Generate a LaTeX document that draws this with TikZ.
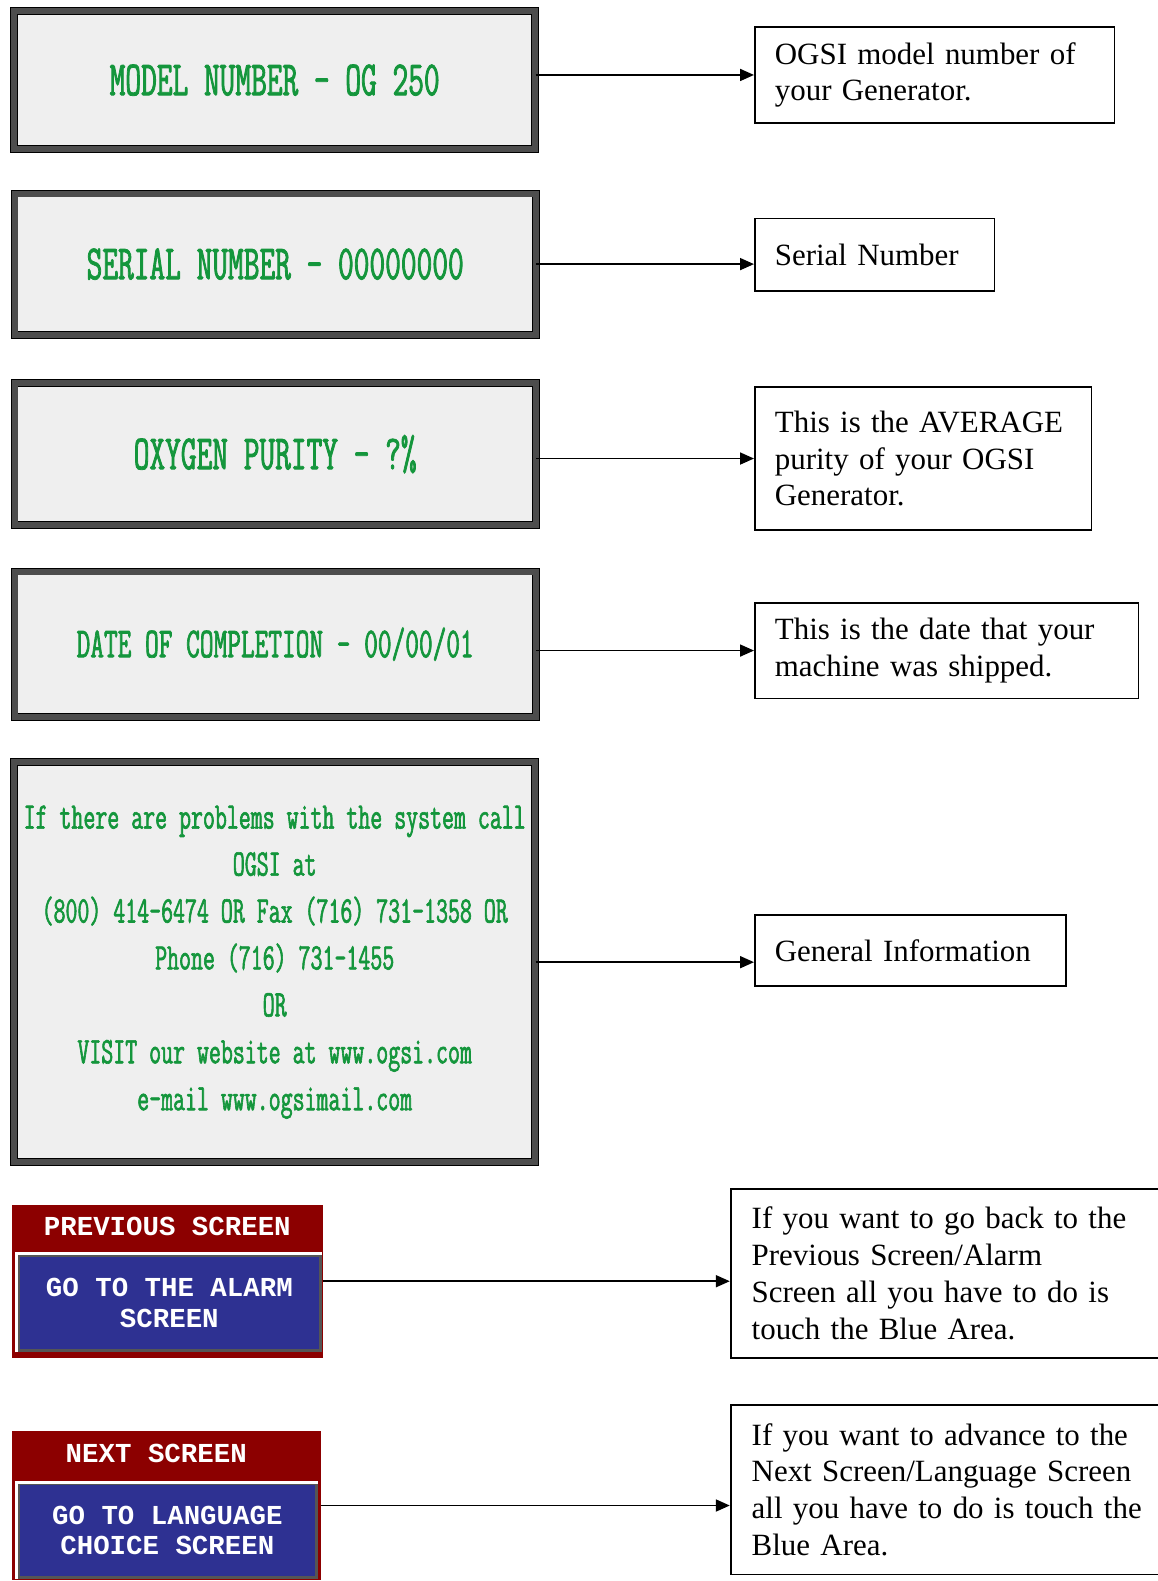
\documentclass[tikz,border=0pt]{standalone}
\usepackage{fontspec}
\setmainfont{Liberation Serif}
\newfontfamily\lcdfont[FakeStretch=0.62,FakeBold=1.6]{Latin Modern Mono}
\newfontfamily\btnfont{Liberation Mono}
\usetikzlibrary{arrows.meta}
\definecolor{lcdface}{RGB}{239,239,239}
\definecolor{lcdframe}{RGB}{77,77,77}
\definecolor{lcdgreen}{RGB}{20,150,60}
\definecolor{btnred}{RGB}{140,0,0}
\definecolor{btnblue}{RGB}{46,49,146}
\definecolor{btnshade}{RGB}{85,85,85}
\newcommand{\pxl}{0.02016cm}
\tikzset{
  lcd/.style={draw=black, line width=0.5pt, double=lcdframe,
    double distance=0.12cm, fill=lcdface, text=lcdgreen,
    minimum width=517*\pxl, inner sep=0pt},
  lcdbig/.style={font=\lcdfont\fontsize{28}{33}\selectfont},
  lcdmid/.style={font=\lcdfont\fontsize{24.4}{29}\selectfont},
  lcdsmall/.style={font=\lcdfont\fontsize{21.3}{26.7}\selectfont},
  btnframe/.style={fill=btnred, inner sep=0pt},
  btnhead/.style={text=white, font=\btnfont\bfseries\fontsize{15.6}{17}\selectfont},
  btnface/.style={fill=btnblue, draw=btnshade, line width=0.06cm,
    text=white, align=center, inner sep=0pt,
    font=\btnfont\bfseries\fontsize{15.6}{17.2}\selectfont},
  bevel/.style={white, line width=0.06cm},
  infobox/.style={draw=black, line width=1pt, align=left, anchor=north west,
    inner xsep=0.4cm, font=\fontsize{17.6}{21}\selectfont},
  pointer/.style={-{Triangle[length=0.28cm,width=0.24cm]}, line width=1pt}
}

\begin{document}
\begin{tikzpicture}[x=\pxl, y=-\pxl]
    \useasboundingbox (0,0) rectangle (1147.8,1568.4);

    \node[lcd, lcdbig, minimum height=137*\pxl] (model) at (272.5,79.5)
      {MODEL NUMBER - OG 250};
    \node[lcd, lcdbig, minimum height=140*\pxl] (serial) at (273,262)
      {SERIAL NUMBER - 00000000};
    \node[lcd, lcdbig, minimum height=141*\pxl] (purity) at (273,450.5)
      {OXYGEN PURITY - ?\%};
    \node[lcd, lcdmid, minimum height=144*\pxl] (date) at (273,639)
      {DATE OF COMPLETION - 00/00/01};
    \node[lcd, lcdsmall, align=center, minimum height=397*\pxl] (contact)
      at (272.5,954.5)
      {If there are problems with the system call\\
       OGSI at\\
       (800) 414-6474 OR Fax (716) 731-1358 OR\\
       Phone (716) 731-1455\\
       OR\\
       VISIT our website at www.ogsi.com\\
       e-mail www.ogsimail.com};

    \node[btnframe, minimum width=308*\pxl, minimum height=152*\pxl] (prevbtn)
      at (166,1271) {};
    \node[btnhead] (prevhead) at (166,1217) {PREVIOUS SCREEN};
    \node[btnface, minimum width=300*\pxl, minimum height=95*\pxl] (prevgo)
      at (168,1292.5) {GO TO THE ALARM\\SCREEN};
    \draw[bevel] (prevgo.south west) -- (prevgo.north west) -- (prevgo.north east);

    \node[btnframe, minimum width=306*\pxl, minimum height=147*\pxl] (nextbtn)
      at (165,1493.5) {};
    \node[btnhead] (nexthead) at (155,1442) {NEXT SCREEN};
    \node[btnface, minimum width=296*\pxl, minimum height=93*\pxl] (nextgo)
      at (166,1518.5) {GO TO LANGUAGE\\CHOICE SCREEN};
    \draw[bevel] (nextgo.south west) -- (nextgo.north west) -- (nextgo.north east);

    \node[infobox, text width=6.39cm, minimum height=95*\pxl] (modelinfo)
      at (748,26) {OGSI model number of\\your Generator.};
    \node[infobox, text width=3.99cm, minimum height=72*\pxl] (serialinfo)
      at (748,216) {Serial Number};
    \node[infobox, text width=5.93cm, minimum height=142*\pxl] (purityinfo)
      at (748,383) {This is the AVERAGE\\purity of your OGSI\\Generator.};
    \node[infobox, text width=6.87cm, minimum height=95*\pxl] (dateinfo)
      at (748,597) {This is the date that your\\machine was shipped.};
    \node[infobox, text width=5.42cm, minimum height=70*\pxl] (contactinfo)
      at (748,907) {General Information};
    \node[infobox, text width=8.3cm, inner xsep=0.42cm, minimum height=167*\pxl]
      (previnfo) at (724,1179)
      {If you want to go back to the\\Previous Screen/Alarm\\
       Screen all you have to do is\\touch the Blue Area.};
    \node[infobox, text width=8.3cm, inner xsep=0.42cm, minimum height=168*\pxl]
      (nextinfo) at (724,1393)
      {If you want to advance to the\\Next Screen/Language Screen\\
       all you have to do is touch the\\Blue Area.};

    \draw[pointer] (model.east |- modelinfo.west) -- (modelinfo.west);
    \draw[pointer] (serial.east) -- (serial.east -| serialinfo.west);
    \draw[pointer] (purity.east |- purityinfo.west) -- (purityinfo.west);
    \draw[pointer] (date.east |- dateinfo.west) -- (dateinfo.west);
    \draw[pointer] (contact.east) -- (contact.east -| contactinfo.west);
    \draw[pointer] (prevbtn.east) -- (prevbtn.east -| previnfo.west);
    \draw[pointer] (nextbtn.east) -- (nextbtn.east -| nextinfo.west);
\end{tikzpicture}
\end{document}
